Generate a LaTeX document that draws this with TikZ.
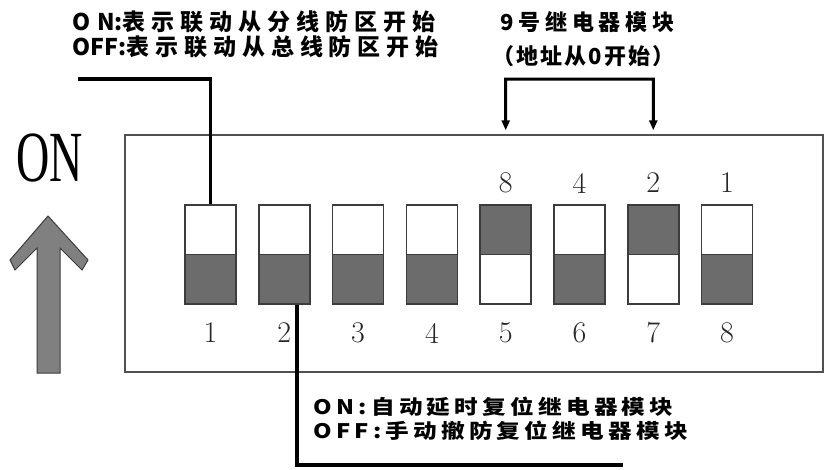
\documentclass[tikz,border=0pt]{standalone}
\usepackage{fontspec}
\usetikzlibrary{arrows.meta,calc}
\newfontfamily\cjk{Noto Sans CJK SC}
\newfontfamily\cjkls[LetterSpace=26]{Noto Sans CJK SC}
\newfontfamily\cjklsb[LetterSpace=22]{Noto Sans CJK SC}
\newfontfamily\cjklsc[LetterSpace=10]{Noto Sans CJK SC}
\newfontfamily\cjklsd[LetterSpace=18]{Noto Sans CJK SC}
\newfontfamily\serifL{Liberation Serif}
\definecolor{swgray}{RGB}{108,108,108}
\definecolor{arrgray}{RGB}{128,128,128}
\definecolor{edge}{RGB}{60,60,60}
\begin{document}
\begin{tikzpicture}[x=1pt,y=-1pt,
  swbase/.style={draw=edge, line width=1.5pt, minimum width=51pt, minimum height=99pt, inner sep=0pt, fill=white},
  swoff/.style={swbase, path picture={
      \fill[swgray] (path picture bounding box.west) rectangle (path picture bounding box.south east);
      \draw[edge, line width=1.5pt] (path picture bounding box.west) -- (path picture bounding box.east);}},
  swon/.style={swbase, path picture={
      \fill[swgray] (path picture bounding box.north west) rectangle (path picture bounding box.east);
      \draw[edge, line width=1.5pt] (path picture bounding box.west) -- (path picture bounding box.east);}},
  num/.style={font=\fontsize{30}{30}\selectfont, inner sep=0pt, text=black!85},
  callout/.style={line width=3.5pt, black},
  txt/.style={anchor=west, inner sep=0pt, align=left}
]
\useasboundingbox (0,0) rectangle (826,469);

% outer box
\node[draw=edge!90, line width=1.5pt, minimum width=698pt, minimum height=237pt, inner sep=0pt] (box) at (474,253.5) {};

% switches and numbers
\foreach \i/\st in {1/swoff,2/swoff,3/swoff,4/swoff,5/swon,6/swoff,7/swon,8/swoff}{
  \node[\st] (s\i) at ({210.5+73.8*(\i-1)},254.5) {};
  \node[num] (n\i) at ({210.5+73.8*(\i-1)},333) {\i};
}
\foreach \i/\v in {5/8,6/4,7/2,8/1}{
  \node[num] (t\i) at ({210.5+73.8*(\i-1)},183) {\v};
}

% ON label and big arrow
\node[inner sep=0pt, font=\serifL\fontsize{72}{72}\selectfont] (on) at (49.5,158) {\scalebox{0.64}[1]{ON}};
\draw[fill=arrgray, draw=edge, line width=1pt, line join=miter]
  (48,216) -- (88,260) -- (82,270) -- (60,248) -- (60,373) -- (37,373)
  -- (37,248) -- (15,270) -- (10,260) -- cycle;

% top-left callout
\node[txt, font=\fontsize{23}{25}\selectfont\bfseries] (tl) at (72,34) {%
  {\cjk O\hspace{7pt}N:}{\cjkls 表示联动从分线防区开始}\\
  {\cjk OFF:}{\cjkls 表示联动从总线防区开始}};
\coordinate (lc) at (78,79);
\draw[callout] (lc) -| (s1.north);

% top-right bracket
\node[txt, font=\fontsize{22}{34}\selectfont\bfseries] (tr) at (500,39) {%
  {\cjklsb 9号继电器模块}\\
  {\hspace{-8pt}\cjklsc （地址从0开始）}};
\coordinate (ra) at (505.7,79);
\coordinate (rb) at (653.3,79);
\draw[line width=3pt, {Triangle[length=10pt,width=8pt]}-{Triangle[length=10pt,width=8pt]}, shorten <=4pt, shorten >=4pt]
  (s5 |- box.north) -- (ra) -- (rb) -- (s7 |- box.north);

% bottom callout
\coordinate (bc) at (623,465);
\draw[callout, line width=4pt] ([xshift=13pt]s2.south) |- (bc);
\node[txt, font=\fontsize{20}{22}\selectfont\bfseries] (bt) at (313,421) {\scalebox{1.18}[1]{\begin{tabular}{@{}l@{}}
  {\cjklsd O\hspace{4pt}N:自动延时复位继电器模块}\\
  {\cjklsd OFF:手动撤防复位继电器模块}\end{tabular}}};
\end{tikzpicture}
\end{document}
